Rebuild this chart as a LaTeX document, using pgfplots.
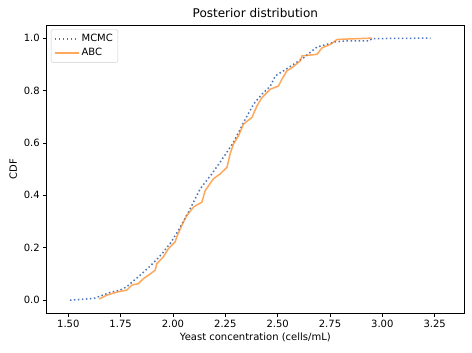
\documentclass[border=0pt]{standalone}
\usepackage{pgfplots}
\pgfplotsset{compat=1.18}
\usepackage{fontspec}
\setmainfont{DejaVu Sans}
\definecolor{mcblue}{HTML}{4C74B8}
\definecolor{taborange}{HTML}{FF7F0E}
\begin{document}
\begin{tikzpicture}
\begin{axis}[
  name=ax,
  scale only axis,
  width=417pt, height=288pt,
  xmin=1.397, xmax=3.39,
  ymin=-0.05, ymax=1.05,
  xtick={1.5,1.75,2.0,2.25,2.5,2.75,3.0,3.25},
  ytick={0,0.2,0.4,0.6,0.8,1.0},
  xtick pos=bottom, ytick pos=left,
  tick align=outside,
  major tick length=3.5pt,
  every tick/.style={black, line width=0.8pt},
  axis line style={line width=0.8pt},
  /pgf/number format/assume math mode=true,
  xticklabel style={font=\fontsize{10}{12}\selectfont, /pgf/number format/.cd, fixed, fixed zerofill, precision=2},
  yticklabel style={font=\fontsize{10}{12}\selectfont, /pgf/number format/.cd, fixed, fixed zerofill, precision=1},
  scaled ticks=false,
  title={Posterior distribution},
  title style={font=\fontsize{12}{14}\selectfont, yshift=-2pt},
  xlabel={Yeast concentration (cells/mL)},
  ylabel={CDF},
  label style={font=\fontsize{10}{12}\selectfont},
  xlabel style={yshift=2pt},
  legend style={at={(0.01,0.985)}, anchor=north west, draw=black!20, rounded corners=2pt,
    font=\fontsize{10}{12}\selectfont, inner xsep=3pt, inner ysep=3pt,
    nodes={inner sep=2pt}, row sep=1pt},
  legend cell align=left,
  legend image code/.code={\draw[#1] (0pt,0pt) -- (24pt,0pt);},
]
\addplot[mcblue, line width=1.5pt, line cap=butt, dash pattern=on 1.5pt off 2.5pt] coordinates {
(1.508,0.000) (1.620,0.006) (1.652,0.015) (1.699,0.029) (1.747,0.038)
(1.779,0.051) (1.811,0.073) (1.843,0.095) (1.891,0.130) (1.923,0.155)
(1.954,0.183) (1.975,0.205) (1.986,0.215) (2.026,0.266) (2.074,0.336)
(2.122,0.412) (2.130,0.425) (2.186,0.482) (2.241,0.545) (2.289,0.602)
(2.337,0.678) (2.385,0.748) (2.425,0.786) (2.465,0.817) (2.489,0.856)
(2.528,0.875) (2.576,0.900) (2.624,0.925) (2.664,0.951) (2.688,0.966)
(2.743,0.978) (2.776,0.986) (2.831,0.989) (2.935,0.989) (2.951,0.998)
(3.230,1.000)
};
\addlegendentry{MCMC}
\addplot[taborange, opacity=0.68, line width=1.5pt] coordinates {
(1.648,0.004) (1.684,0.019) (1.739,0.032) (1.779,0.038) (1.803,0.057)
(1.835,0.063) (1.859,0.082) (1.883,0.095) (1.915,0.114) (1.923,0.139)
(1.954,0.165) (1.978,0.196) (2.010,0.222) (2.018,0.241) (2.042,0.285)
(2.066,0.323) (2.098,0.355) (2.138,0.374) (2.154,0.418) (2.193,0.463)
(2.226,0.482) (2.258,0.507) (2.273,0.558) (2.289,0.596) (2.313,0.627)
(2.337,0.672) (2.377,0.697) (2.401,0.741) (2.425,0.773) (2.465,0.805)
(2.504,0.817) (2.520,0.843) (2.544,0.875) (2.568,0.887) (2.608,0.913)
(2.616,0.932) (2.688,0.938) (2.712,0.963) (2.752,0.976) (2.784,0.995)
(2.951,1.000)
};
\addlegendentry{ABC}
\end{axis}
\useasboundingbox ([shift={(-46.7pt,-39pt)}]ax.south west) rectangle ([shift={(8pt,25pt)}]ax.north east);
\end{tikzpicture}
\end{document}
